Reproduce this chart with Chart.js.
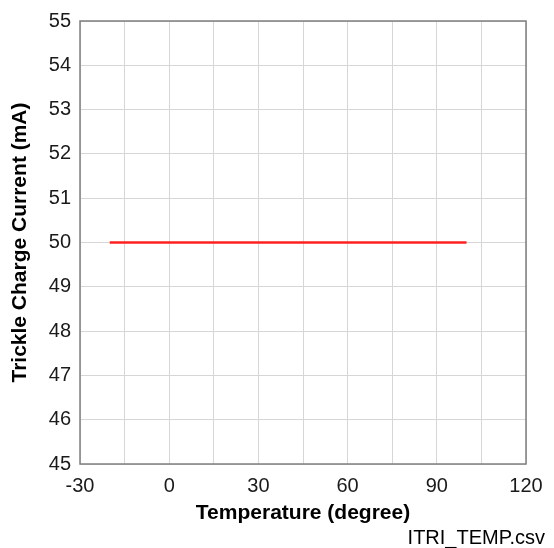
<!DOCTYPE html>
<html lang="en">
<head>
    <script src="https://cdn.jsdelivr.net/npm/chart.js"></script>
    <style>
        html, body { margin: 0; padding: 0; background: #ffffff; }
        .chart-box { width: 554px; height: 548px; position: relative; }
    </style>
</head>
<body>
    <div class="chart-box">
        <canvas id="tempChart"></canvas>
    </div>

    <script>
        const temperature = [-20, 100];
        const trickleCurrent = [50, 50];
        const xTicks = [-30, 0, 30, 60, 90, 120];
        const yTicks = [45, 46, 47, 48, 49, 50, 51, 52, 53, 54, 55];
        const sourceFile = 'ITRI_TEMP.csv';

        const points = temperature.map((t, i) => ({ x: t, y: trickleCurrent[i] }));
        const family = "'Liberation Sans', Arial, sans-serif";
        const tickFont = { family: family, size: 20 };
        const titleFont = { family: family, size: 21, weight: 'bold' };

        // frame around the plot area + file name at bottom right
        const extras = {
            id: 'extras',
            afterDatasetsDraw(chart) {
                const a = chart.chartArea, c = chart.ctx;
                c.save();
                c.strokeStyle = '#7f7f7f';
                c.lineWidth = 1.5;
                c.strokeRect(a.left, a.top, a.right - a.left, a.bottom - a.top);
                c.fillStyle = '#000000';
                c.font = '20px ' + family;
                c.textAlign = 'right';
                c.textBaseline = 'middle';
                c.fillText(sourceFile, chart.width - 9, 538);
                c.restore();
            }
        };

        new Chart(document.getElementById('tempChart'), {
            type: 'scatter',
            data: {
                datasets: [{
                    data: points,
                    showLine: true,
                    borderColor: '#ff2020',
                    borderWidth: 2.5,
                    pointRadius: 0,
                    pointHoverRadius: 0
                }]
            },
            options: {
                responsive: true,
                maintainAspectRatio: false,
                animation: false,
                layout: { padding: { top: 19, right: 28, left: 0, bottom: 0 } },
                scales: {
                    x: {
                        type: 'linear',
                        min: xTicks[0],
                        max: xTicks[xTicks.length - 1],
                        grid: { color: '#d6d6d6', drawTicks: false },
                        border: { display: false },
                        ticks: {
                            stepSize: 15,
                            padding: 10,
                            color: '#1a1a1a',
                            font: tickFont,
                            autoSkip: false,
                            maxRotation: 0,
                            callback: v => xTicks.includes(v) ? String(v) : ''
                        },
                        title: {
                            display: true,
                            text: 'Temperature (degree)',
                            color: '#000000',
                            font: titleFont,
                            padding: { top: 0, bottom: 22 }
                        },
                        afterFit: s => { s.height = 84; }
                    },
                    y: {
                        min: yTicks[0],
                        max: yTicks[yTicks.length - 1],
                        grid: { color: '#d6d6d6', drawTicks: false },
                        border: { display: false },
                        ticks: {
                            stepSize: 1,
                            padding: 9,
                            color: '#1a1a1a',
                            font: tickFont
                        },
                        title: {
                            display: true,
                            text: 'Trickle Charge Current (mA)',
                            color: '#000000',
                            font: titleFont,
                            padding: { top: 8, bottom: 0 }
                        },
                        afterFit: s => { s.width = 80; }
                    }
                },
                plugins: {
                    legend: { display: false },
                    tooltip: { enabled: false }
                }
            },
            plugins: [extras]
        });
    </script>
</body>
</html>
